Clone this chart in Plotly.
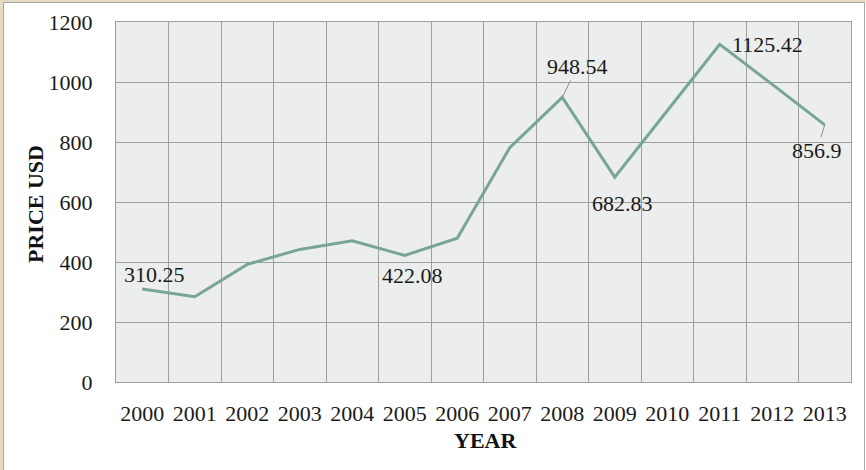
import plotly.graph_objects as go

years = [str(y) for y in range(2000, 2014)]
prices = [310.25, 284, 392, 442, 471, 422.08, 479, 781, 948.54, 682.83, 904, 1125.42, 992, 856.9]

# labelled points: (year, text, ax, ay, show leader)
labels = [
    ("2000", "310.25", 12, -14, False),
    ("2005", "422.08", 8, 20, False),
    ("2008", "948.54", 15, -31, True),
    ("2009", "682.83", 8, 26, True),
    ("2011", "1125.42", 48, 0, False),
    ("2013", "856.9", -8, 26, True),
]

FONT = "Liberation Serif"
L, R, T, B = 116, 15, 22, 88
W, H = 866, 470
PW, PH = W - L - R, H - T - B

fig = go.Figure()
fig.add_trace(go.Scatter(
    x=years, y=prices, mode="lines",
    line=dict(color="#78a596", width=3),
    hoverinfo="x+y", showlegend=False,
))

ann = []
for yr, txt, ax, ay, lead in labels:
    i = years.index(yr)
    ann.append(dict(
        x=i, y=prices[i], xref="x", yref="y", text=txt,
        showarrow=True, arrowhead=0, arrowwidth=1,
        arrowcolor="#8a8a8a" if lead else "rgba(0,0,0,0)",
        ax=ax, ay=ay, font=dict(family=FONT, size=22, color="#1a1a1a"),
    ))

def px(xp):
    return (xp - L) / PW

def py(yp):
    return (H - B - yp) / PH

# axis titles
ann.append(dict(text="<b>YEAR</b>", xref="paper", yref="paper",
                x=px(485), y=py(440), showarrow=False, xanchor="center", yanchor="middle",
                font=dict(family=FONT, size=22, color="#111")))
ann.append(dict(text="<b>PRICE USD</b>", xref="paper", yref="paper",
                x=px(35), y=py(204), showarrow=False, textangle=-90,
                xanchor="center", yanchor="middle",
                font=dict(family=FONT, size=22, color="#111")))

shapes = [
    dict(type="rect", xref="paper", yref="paper", x0=px(0), x1=px(3), y0=py(0), y1=py(H),
         fillcolor="#e6dcc2", line=dict(width=0), layer="above"),
    dict(type="rect", xref="paper", yref="paper", x0=px(0), x1=px(W), y0=py(0), y1=py(2),
         fillcolor="#e6dcc2", line=dict(width=0), layer="above"),
    dict(type="line", xref="paper", yref="paper", x0=px(3.5), x1=px(3.5), y0=py(2), y1=py(H),
         line=dict(color="#a8a8a8", width=1), layer="above"),
    dict(type="line", xref="paper", yref="paper", x0=px(3), x1=px(865), y0=py(2.5), y1=py(2.5),
         line=dict(color="#a8a8a8", width=1), layer="above"),
    dict(type="line", xref="paper", yref="paper", x0=px(864.5), x1=px(864.5), y0=py(2), y1=py(H),
         line=dict(color="#a8a8a8", width=1), layer="above"),
]

fig.update_layout(
    width=W, height=H,
    margin=dict(l=L, r=R, t=T, b=B),
    paper_bgcolor="white",
    plot_bgcolor="#eceeed",
    font=dict(family=FONT, size=22, color="#1a1a1a"),
    annotations=ann,
    shapes=shapes,
    xaxis=dict(
        type="category", range=[-0.5, len(years) - 0.5], tickson="boundaries", ticks="",
        showgrid=True, gridcolor="#9e9e9e", gridwidth=1, showline=True, linecolor="#9e9e9e",
        mirror=True, ticklabelstandoff=12, fixedrange=True, automargin=False,
        tickfont=dict(family=FONT, size=22, color="#1a1a1a"),
    ),
    yaxis=dict(
        range=[0, 1200], dtick=200, showgrid=True, gridcolor="#9e9e9e", gridwidth=1,
        showline=True, linecolor="#9e9e9e", mirror=True, zeroline=False,
        ticks="", ticklabelstandoff=18, fixedrange=True, automargin=False,
        tickfont=dict(family=FONT, size=22, color="#1a1a1a"),
    ),
)

fig.write_html(
    "out.html",
    config={"displayModeBar": False},
    post_script="document.body.style.margin='0';",
)
